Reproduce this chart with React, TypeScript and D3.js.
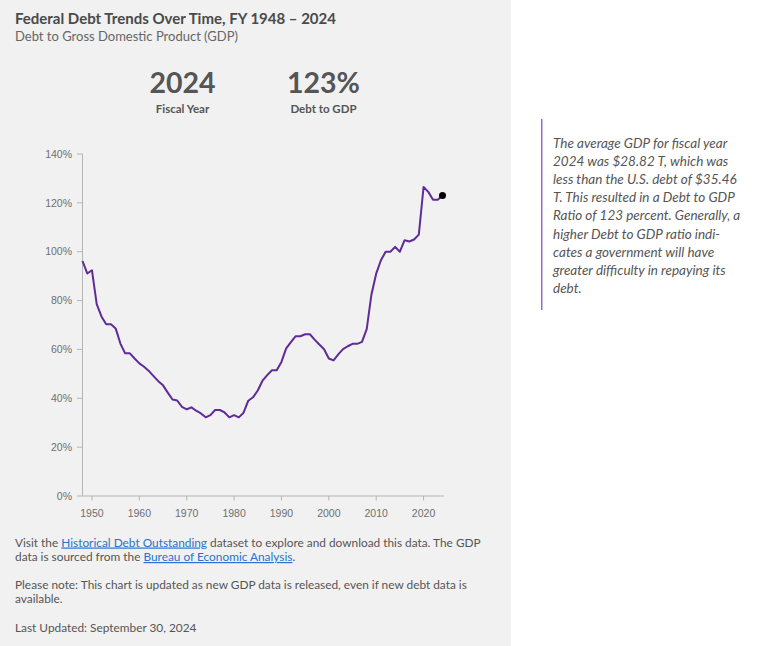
import React from "react";
import * as d3 from "d3";

const years = [
  1948, 1949, 1950, 1951, 1952, 1953, 1954, 1955, 1956, 1957, 1958, 1959,
  1960, 1961, 1962, 1963, 1964, 1965, 1966, 1967, 1968, 1969,
  1970, 1971, 1972, 1973, 1974, 1975, 1976, 1977, 1978, 1979,
  1980, 1981, 1982, 1983, 1984, 1985, 1986, 1987, 1988, 1989,
  1990, 1991, 1992, 1993, 1994, 1995, 1996, 1997, 1998, 1999,
  2000, 2001, 2002, 2003, 2004, 2005, 2006, 2007, 2008, 2009,
  2010, 2011, 2012, 2013, 2014, 2015, 2016, 2017, 2018, 2019,
  2020, 2021, 2022, 2023, 2024,
];

const debtToGdp = [
  96.2, 91.1, 92.4, 78.5, 73.5, 70.3, 70.3, 68.6, 62.4, 58.4, 58.4, 56.3,
  54.3, 52.9, 51.2, 49.1, 47.0, 45.3, 42.3, 39.5, 39.1, 36.5,
  35.5, 36.3, 34.9, 33.8, 32.2, 33.1, 35.2, 35.2, 34.2, 32.2,
  33.1, 32.2, 34.1, 39.0, 40.4, 43.2, 47.2, 49.5, 51.5, 51.5,
  54.9, 60.4, 63.0, 65.4, 65.4, 66.2, 66.2, 64.0, 62.0, 60.1,
  56.3, 55.5, 58.0, 60.1, 61.3, 62.3, 62.3, 63.1, 68.3, 82.5,
  91.0, 96.5, 100.0, 100.0, 102.0, 100.0, 104.7, 104.2, 105.0, 107.0,
  126.5, 124.5, 121.3, 121.3, 123.0,
];

const yTicks = [0, 20, 40, 60, 80, 100, 120, 140];
const xTicks = [1950, 1960, 1970, 1980, 1990, 2000, 2010, 2020];

const noteLines = [
  "The average GDP for fiscal year",
  "2024 was $28.82 T, which was",
  "less than the U.S. debt of $35.46",
  "T. This resulted in a Debt to GDP",
  "Ratio of 123 percent. Generally, a",
  "higher Debt to GDP ratio indi-",
  "cates a government will have",
  "greater difficulty in repaying its",
  "debt.",
];

const FONT = "Lato, 'Open Sans', sans-serif";
const TEXT = "#555555";
const LINK = "#2a72d0";

export default function App() {
  const x = d3.scaleLinear().domain([1948, 2024]).range([82.5, 442.5]);
  const y = d3.scaleLinear().domain([0, 140]).range([496, 154]);
  const data = years.map((yr, i) => ({ yr, v: debtToGdp[i] }));
  const line = d3
    .line<{ yr: number; v: number }>()
    .x((d) => x(d.yr))
    .y((d) => y(d.v));
  const last = data[data.length - 1];

  return (
    <div style={{ position: "absolute", left: 0, top: 0 }}>
      <svg width={768} height={646} style={{ display: "block" }}>
        <rect x={0} y={0} width={768} height={646} fill="#ffffff" />
        <rect x={0} y={0} width={511} height={646} fill="#f1f1f1" />

        <text x={15} y={24} fontFamily={FONT} fontWeight={700} fontSize={15} fill="#4a4a4a">
          Federal Debt Trends Over Time, FY 1948 – 2024
        </text>
        <text x={15} y={41} fontFamily={FONT} fontSize={13} fill="#666666">
          Debt to Gross Domestic Product (GDP)
        </text>

        <text x={182.5} y={92.5} textAnchor="middle" fontFamily={FONT} fontWeight={700} fontSize={28.5} fill="#555555">
          2024
        </text>
        <text x={182.5} y={113} textAnchor="middle" fontFamily={FONT} fontWeight={700} fontSize={11.5} fill="#555555">
          Fiscal Year
        </text>
        <text x={323.5} y={92.5} textAnchor="middle" fontFamily={FONT} fontWeight={700} fontSize={28.5} fill="#555555">
          123%
        </text>
        <text x={323.5} y={113} textAnchor="middle" fontFamily={FONT} fontWeight={700} fontSize={11.5} fill="#555555">
          Debt to GDP
        </text>

        {/* y axis */}
        <line x1={82.5} x2={82.5} y1={y(140)} y2={y(0)} stroke="#b5b5b5" strokeWidth={1} />
        {yTicks.map((t) => (
          <g key={"y" + t}>
            <line x1={77} x2={82.5} y1={y(t)} y2={y(t)} stroke="#b5b5b5" strokeWidth={1} />
            <text
              x={72}
              y={y(t)}
              dy="0.35em"
              textAnchor="end"
              fontFamily="'Liberation Sans', Arial, sans-serif"
              fontSize={10.5}
              fill="#6f6f6f"
            >
              {t}%
            </text>
          </g>
        ))}

        {/* x axis */}
        <line x1={82} x2={444} y1={y(0)} y2={y(0)} stroke="#b5b5b5" strokeWidth={1} />
        {xTicks.map((t) => (
          <g key={"x" + t}>
            <line x1={x(t)} x2={x(t)} y1={y(0)} y2={y(0) + 4.5} stroke="#b5b5b5" strokeWidth={1} />
            <text
              x={x(t)}
              y={516.5}
              textAnchor="middle"
              fontFamily="'Liberation Sans', Arial, sans-serif"
              fontSize={10.5}
              fill="#6f6f6f"
            >
              {t}
            </text>
          </g>
        ))}

        <path d={line(data) || ""} fill="none" stroke="#5f2b98" strokeWidth={2} strokeLinejoin="round" />
        <circle cx={x(last.yr)} cy={y(last.v)} r={3.5} fill="#000000" />

        {/* footer */}
        <g fontFamily={FONT} fontSize={11.85} fill={TEXT}>
          <text x={15} y={546.5}>
            Visit the{" "}
            <tspan fill={LINK} textDecoration="underline">Historical Debt Outstanding</tspan>{" "}
            dataset to explore and download this data. The GDP
          </text>
          <text x={15} y={561}>
            data is sourced from the{" "}
            <tspan fill={LINK} textDecoration="underline">Bureau of Economic Analysis</tspan>.
          </text>
          <text x={15} y={588.5}>
            Please note: This chart is updated as new GDP data is released, even if new debt data is
          </text>
          <text x={15} y={603}>available.</text>
          <text x={15} y={632}>Last Updated: September 30, 2024</text>
        </g>

        {/* side note */}
        <line x1={541.75} x2={541.75} y1={119} y2={310} stroke="#9a6cc6" strokeWidth={1.5} />
        <g fontFamily={FONT} fontStyle="italic" fontSize={13.5} fill={TEXT}>
          {noteLines.map((l, i) => (
            <text key={i} x={553} y={147.5 + i * 18.2}>
              {l}
            </text>
          ))}
        </g>
      </svg>
    </div>
  );
}
